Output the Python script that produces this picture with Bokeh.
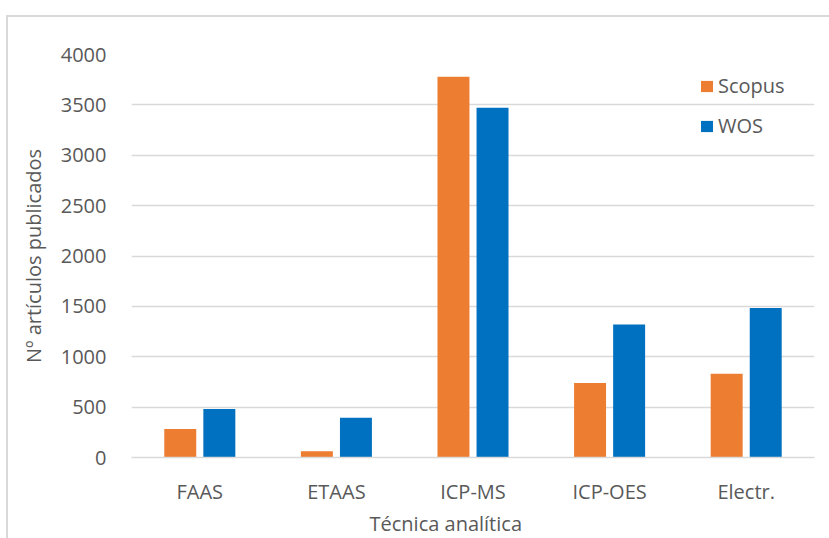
from bokeh.plotting import figure
from bokeh.models import (ColumnDataSource, FactorRange, Range1d, FixedTicker, Legend,
                          LegendItem, Title, InlineStyleSheet)
from bokeh.transform import dodge
from bokeh.embed import file_html
from bokeh.resources import INLINE

categories = ["FAAS", "ETAAS", "ICP-MS", "ICP-OES", "Electr."]
scopus = [283, 62, 3778, 740, 832]
wos = [482, 395, 3472, 1320, 1484]
y_ticks = [0, 500, 1000, 1500, 2000, 2500, 3000, 3500, 4000]

FONT = "Open Sans"
TXT = "#595959"
GRID = "#d9d9d9"

src = ColumnDataSource(dict(cat=categories, scopus=scopus, wos=wos))

border_css = InlineStyleSheet(css="""
:host::after {
  content: "";
  position: absolute;
  left: 6px; top: 15px; width: 900px; height: 700px;
  border-left: 2px solid #d9d9d9;
  border-top: 2px solid #d9d9d9;
  pointer-events: none;
  z-index: 100;
}
""")

p = figure(width=829, height=538, x_range=FactorRange(factors=categories, range_padding=0),
           y_range=Range1d(0, 4000), output_backend="svg", toolbar_location=None,
           min_border_left=131, min_border_right=15, min_border_top=54, min_border_bottom=81,
           stylesheets=[border_css])
p.outline_line_color = None
p.background_fill_color = "white"
p.border_fill_color = "white"

r1 = p.vbar(x=dodge("cat", -0.143, range=p.x_range), top="scopus", width=0.234, source=src,
            fill_color="#ED7D31", line_color=None)
r2 = p.vbar(x=dodge("cat", 0.143, range=p.x_range), top="wos", width=0.234, source=src,
            fill_color="#0070C0", line_color=None)

p.xgrid.grid_line_color = None
p.ygrid.grid_line_color = GRID
p.ygrid.grid_line_width = 1.3
p.yaxis.ticker = FixedTicker(ticks=y_ticks)

for ax in (p.xaxis[0], p.yaxis[0]):
    ax.major_tick_line_color = None
    ax.minor_tick_line_color = None
    ax.major_label_text_font = FONT
    ax.major_label_text_font_size = "20px"
    ax.major_label_text_color = TXT
    ax.axis_label_text_font = FONT
    ax.axis_label_text_font_size = "20px"
    ax.axis_label_text_color = TXT
    ax.axis_label_text_font_style = "normal"

p.yaxis.axis_line_color = None
p.yaxis.major_label_standoff = 19
p.yaxis.axis_label = "Nº artículos publicados"
p.yaxis.axis_label_standoff = 11
p.xaxis.axis_line_color = GRID
p.xaxis.axis_line_width = 1.3
p.xaxis.major_label_standoff = 14

t = Title(text="Técnica analítica", align="left", offset=238, text_font=FONT,
          text_font_size="20px", text_color=TXT, text_font_style="normal", standoff=0)
p.add_layout(t, "below")

legend = Legend(items=[LegendItem(label="Scopus", renderers=[r1]),
                       LegendItem(label="WOS", renderers=[r2])],
                location=(568, 318), padding=0, spacing=13, glyph_width=15, glyph_height=14,
                label_height=20, label_standoff=4, label_text_font=FONT,
                label_text_font_size="20px", label_text_color=TXT,
                background_fill_alpha=0, border_line_alpha=0, margin=0)
p.add_layout(legend)

open("out.html", "w").write(file_html(p, INLINE))
